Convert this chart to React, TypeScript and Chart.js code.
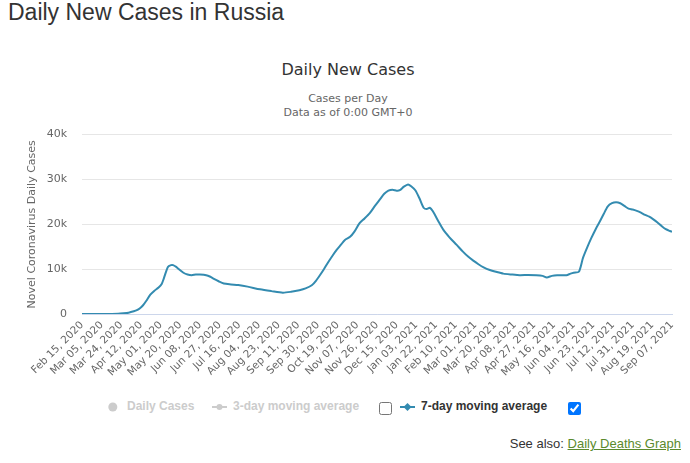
import React, { useEffect, useRef } from "react";
import { Chart, registerables } from "chart.js";

Chart.register(...registerables);

// Day index (days since Feb 15, 2020) and 7-day moving average of daily new cases
const days = [
  0, 20, 35, 40, 45, 50, 53, 56, 59, 62, 66, 70, 74, 77, 79, 83, 86, 88, 91, 93,
  98, 102, 106, 110, 114, 120, 124, 127, 132, 137, 144, 151, 160, 172, 183, 194,
  202, 210, 216, 222, 226, 230, 234, 238, 242, 246, 250, 254, 259, 263, 268, 273,
  278, 283, 288, 292, 296, 300, 304, 307, 311, 315, 318, 322, 326, 330, 333, 336,
  339, 344, 349, 355, 362, 368, 373, 378, 383, 388, 394, 400, 407, 415, 423, 431,
  439, 445, 449, 454, 459, 464, 468, 472, 475, 480, 484, 488, 492, 496, 500, 504,
  508, 512, 516, 520, 524, 528, 532, 536, 540, 544, 548, 552, 556, 560, 564, 568, 570,
];
const cases = [
  0, 0, 50, 150, 300, 600, 850, 1300, 1950, 2900, 4300, 5200, 5900, 6700, 7900,
  10500, 10900, 10900, 10500, 10100, 9200, 8800, 8650, 8800, 8800, 8650, 8300,
  7900, 7300, 6800, 6600, 6450, 6100, 5500, 5100, 4750, 4950, 5300, 5700, 6400,
  7400, 8700, 10100, 11600, 13000, 14300, 15400, 16500, 17200, 18300, 20200,
  21300, 22500, 24100, 25600, 26800, 27500, 27700, 27500, 27600, 28400, 28900,
  28500, 27600, 25800, 23700, 23400, 23700, 22900, 20800, 18800, 17100, 15400,
  13900, 12800, 11900, 11100, 10400, 9800, 9400, 9000, 8800, 8650, 8700, 8650,
  8500, 8150, 8500, 8650, 8650, 8650, 9000, 9200, 9400, 12500, 14800, 16900,
  18800, 20500, 22300, 24000, 24700, 24900, 24700, 24100, 23500, 23300, 23000,
  22600, 22100, 21700, 21100, 20400, 19600, 18900, 18500, 18350,
];
const xTickLabels = [
  "Feb 15, 2020", "Mar 05, 2020", "Mar 24, 2020", "Apr 12, 2020", "May 01, 2020",
  "May 20, 2020", "Jun 08, 2020", "Jun 27, 2020", "Jul 16, 2020", "Aug 04, 2020",
  "Aug 23, 2020", "Sep 11, 2020", "Sep 30, 2020", "Oct 19, 2020", "Nov 07, 2020",
  "Nov 26, 2020", "Dec 15, 2020", "Jan 03, 2021", "Jan 22, 2021", "Feb 10, 2021",
  "Mar 01, 2021", "Mar 20, 2021", "Apr 08, 2021", "Apr 27, 2021", "May 16, 2021",
  "Jun 04, 2021", "Jun 23, 2021", "Jul 12, 2021", "Jul 31, 2021", "Aug 19, 2021",
  "Sep 07, 2021",
];
const tickStepDays = 19;
const yTickLabels = ["0", "10k", "20k", "30k", "40k"];

const LINE = "#338bb0";
const FONT = "'DejaVu Sans', sans-serif";

export default function App() {
  const ref = useRef<HTMLCanvasElement | null>(null);

  useEffect(() => {
    document.body.style.margin = "0";
    const canvas = ref.current;
    if (!canvas) return;
    const chart = new Chart(canvas, {
      type: "line",
      data: {
        datasets: [
          {
            label: "7-day moving average",
            data: days.map((d, i) => ({ x: d, y: cases[i] })),
            borderColor: LINE,
            backgroundColor: LINE,
            borderWidth: 2,
            pointRadius: 0,
            tension: 0.25,
            fill: false,
          },
        ],
      },
      options: {
        responsive: false,
        animation: false,
        layout: { padding: { top: 10, right: 18, bottom: 0, left: 0 } },
        plugins: {
          legend: { display: false },
          tooltip: { enabled: false },
          title: { display: false },
        },
        scales: {
          x: {
            type: "linear",
            min: 0,
            max: (xTickLabels.length - 1) * tickStepDays,
            grid: { display: false, drawTicks: false },
            border: { display: true, color: "#ccd6eb", width: 1 },
            afterFit: (s: any) => {
              s.height = 66;
            },
            ticks: {
              stepSize: tickStepDays,
              autoSkip: false,
              maxRotation: 45,
              minRotation: 45,
              padding: 5,
              color: "#666666",
              font: { family: FONT, size: 10.5 },
              callback: (v: any, i: number) => xTickLabels[i] ?? "",
            },
          },
          y: {
            min: 0,
            max: 40000,
            grid: { color: "#e6e6e6", drawTicks: false },
            border: { display: false },
            afterFit: (s: any) => {
              s.width = 82;
            },
            title: {
              display: true,
              text: "Novel Coronavirus Daily Cases",
              color: "#666666",
              font: { family: FONT, size: 11 },
              padding: { top: 26, bottom: 0 },
            },
            ticks: {
              stepSize: 10000,
              padding: 15,
              color: "#666666",
              font: { family: FONT, size: 11 },
              callback: (v: any, i: number) => yTickLabels[i] ?? "",
            },
          },
        },
      },
    });
    return () => chart.destroy();
  }, []);

  const legendText: React.CSSProperties = {
    position: "absolute",
    top: 399,
    fontFamily: "'Liberation Sans', Arial, sans-serif",
    fontWeight: "bold",
    fontSize: 12,
    lineHeight: "14px",
    whiteSpace: "nowrap",
  };
  const checkbox: React.CSSProperties = {
    position: "absolute",
    top: 402,
    margin: 0,
    width: 13,
    height: 13,
  };

  return (
    <div style={{ position: "relative", width: 690, height: 463, background: "#fff", overflow: "hidden" }}>
      <div
        style={{
          position: "absolute",
          left: 8,
          top: -1,
          fontFamily: "'Liberation Sans', Arial, sans-serif",
          fontSize: 23,
          color: "#333",
          whiteSpace: "nowrap",
        }}
      >
        Daily New Cases in Russia
      </div>
      <div
        style={{
          position: "absolute",
          left: 0,
          width: 696,
          top: 60,
          textAlign: "center",
          fontFamily: FONT,
          fontSize: 16,
          lineHeight: "20px",
          color: "#333",
        }}
      >
        Daily New Cases
      </div>
      <div
        style={{
          position: "absolute",
          left: 0,
          width: 696,
          top: 92,
          textAlign: "center",
          fontFamily: FONT,
          fontSize: 11,
          lineHeight: "14px",
          color: "#666",
        }}
      >
        Cases per Day
        <br />
        Data as of 0:00 GMT+0
      </div>
      <canvas
        ref={ref}
        width={690}
        height={267}
        style={{ position: "absolute", left: 0, top: 113, width: 690, height: 267 }}
      />
      {/* legend */}
      <svg style={{ position: "absolute", left: 0, top: 395 }} width={690} height={24}>
        <circle cx={112.8} cy={12} r={4.5} fill="#cccccc" />
        <line x1={212} y1={12} x2={227} y2={12} stroke="#cccccc" strokeWidth={2} />
        <circle cx={219.5} cy={12} r={3} fill="#cccccc" />
        <line x1={400} y1={12} x2={415} y2={12} stroke={LINE} strokeWidth={2} />
        <path d="M407.5 8 L411.5 12 L407.5 16 L403.5 12 Z" fill={LINE} />
      </svg>
      <div style={{ ...legendText, left: 127, color: "#cccccc" }}>Daily Cases</div>
      <div style={{ ...legendText, left: 233, color: "#cccccc" }}>3-day moving average</div>
      <input type="checkbox" readOnly checked={false} style={{ ...checkbox, left: 379 }} />
      <div style={{ ...legendText, left: 421, color: "#333" }}>7-day moving average</div>
      <input type="checkbox" readOnly checked={true} style={{ ...checkbox, left: 568 }} />
      {/* see also */}
      <div
        style={{
          position: "absolute",
          right: 9,
          top: 436,
          fontFamily: "'Liberation Sans', Arial, sans-serif",
          fontSize: 13,
          lineHeight: "16px",
          color: "#333",
          whiteSpace: "nowrap",
        }}
      >
        See also:{" "}
        <a href="#" style={{ color: "#5b8a2d", textDecoration: "underline" }}>
          Daily Deaths Graph
        </a>
      </div>
    </div>
  );
}
